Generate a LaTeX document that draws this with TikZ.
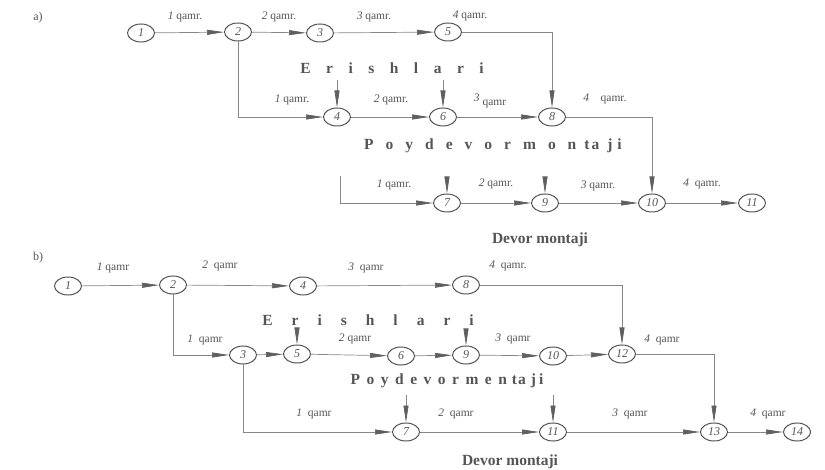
\documentclass[tikz,border=0pt]{standalone}
\usepackage{fontspec}
\setmainfont{Liberation Serif}
\usetikzlibrary{arrows.meta,shapes.geometric}
\definecolor{ink}{RGB}{85,85,85}
\definecolor{wire}{RGB}{135,135,135}
\definecolor{tip}{RGB}{95,95,95}
\newcommand\lsp[1]{\hspace{#1}}
\tikzset{
 ev/.style={ellipse,draw=ink,line width=1pt,minimum width=27pt,minimum height=18pt,inner sep=0pt,font=\fontsize{12}{12}\selectfont\itshape,text=ink},
 lab/.style={font=\fontsize{11.5}{11.5}\selectfont,text=ink,inner sep=0pt},
 ttl/.style={font=\fontsize{15.5}{15.5}\selectfont\bfseries,text=ink,inner sep=0pt},
 con/.style={draw=wire,line width=0.7pt,-{Triangle[length=17pt,width=5pt,color=tip]}},
 tag/.style={font=\fontsize{12}{12}\selectfont,text=ink,inner sep=0pt}
}
\begin{document}
\begin{tikzpicture}[x=1pt,y=-1pt]
\useasboundingbox (0,0) rectangle (825,470);
% ---------------- a) ----------------
\node[tag] (ta) at (38,18) {a)};
\node[ev] (a1) at (141,33) {1};
\node[ev] (a2) at (238,32) {2};
\node[ev] (a3) at (320,33) {3};
\node[ev] (a5) at (448,32) {5};
\node[ev] (a4) at (337,117) {4};
\node[ev] (a6) at (443,117) {6};
\node[ev] (a8) at (552,117) {8};
\node[ev] (a7) at (447,203) {7};
\node[ev] (a9) at (545,203) {9};
\node[ev] (a10) at (652,203) {10};
\node[ev] (a11) at (752,203) {11};
\node[ttl] (ae) at (392,68) {E\lsp{15.5pt}r\lsp{15.5pt}i\lsp{15.5pt}s\lsp{15.5pt}h\lsp{15.5pt}l\lsp{15.5pt}a\lsp{15.5pt}r\lsp{15.5pt}i};
\node[ttl] (ap) at (493,146) {P\lsp{12pt}o\lsp{12pt}y\lsp{12pt}d\lsp{12pt}e\lsp{12pt}v\lsp{12pt}o\lsp{12pt}r\lsp{12pt}m\lsp{12pt}o\lsp{12pt}n\lsp{8pt}t\lsp{2pt}a\lsp{8pt}j\lsp{5pt}i};
\node[ttl] (ad) at (540,240) {Devor montaji};
% labels
\node[lab] (la1) at (185,17) {\textit{1} qamr.};
\node[lab] (la2) at (279,17) {\textit{2} qamr.};
\node[lab] (la3) at (374,17) {\textit{3} qamr.};
\node[lab] (la4) at (470,16) {\textit{4} qamr.};
\node[lab] (la5) at (292,100) {\textit{1} qamr.};
\node[lab] (la6) at (391,100) {\textit{2} qamr.};
\node[lab] (la7) at (490,101) {\textit{3} \raisebox{-4pt}{qamr}};
\node[lab] (la8) at (605,99) {\textit{4}\quad qamr.};
\node[lab] (la9) at (394,185) {\textit{1} qamr.};
\node[lab] (la10) at (496,184) {\textit{2} qamr.};
\node[lab] (la11) at (598,186) {\textit{3} qamr.};
\node[lab] (la12) at (702,184) {\textit{4}\enspace qamr.};
% connectors
\draw[con] (a1) -- (a2);
\draw[con] (a2) -- (a3);
\draw[con] (a3) -- (a5);
\draw[con] (a5) -| (a8);
\draw[con] (a2) |- (a4);
\draw[con] (a4) -- (a6);
\draw[con] (a6) -- (a8);
\draw[con] (a8) -| (a10);
\draw[con] (a7) -- (a9);
\draw[con] (a9) -- (a10);
\draw[con] (a10) -- (a11);
\coordinate (sa4) at (337,80);
\coordinate (sa6) at (443,80);
\coordinate (sa7) at (447,178);
\coordinate (sa9) at (545,178);
\coordinate (sa0) at (340,176);
\draw[con] (sa4) -- (a4);
\draw[con] (sa6) -- (a6);
\draw[con] (sa7) -- (a7);
\draw[con] (sa9) -- (a9);
\draw[con] (sa0) |- (a7);
% ---------------- b) ----------------
\node[tag] (tb) at (38,258) {b)};
\node[ev] (b1) at (68,286) {1};
\node[ev] (b2) at (173,285) {2};
\node[ev] (b4) at (303,286) {4};
\node[ev] (b8) at (466,285) {8};
\node[ev] (b3) at (243,355) {3};
\node[ev] (b5) at (297,354) {5};
\node[ev] (b6) at (401,356) {6};
\node[ev] (b9) at (466,355) {9};
\node[ev] (b10) at (553,356) {10};
\node[ev] (b12) at (622,354) {12};
\node[ev] (b7) at (406,432) {7};
\node[ev] (b11) at (553,432) {11};
\node[ev] (b13) at (714,432) {13};
\node[ev] (b14) at (797,432) {14};
\node[ttl] (be) at (368,320) {E\lsp{19pt}r\lsp{19pt}i\lsp{19pt}s\lsp{19pt}h\lsp{19pt}l\lsp{19pt}a\lsp{19pt}r\lsp{19pt}i};
\node[ttl] (bp) at (447,381) {P\lsp{6.5pt}o\lsp{6.5pt}y\lsp{6.5pt}d\lsp{6.5pt}e\lsp{6.5pt}v\lsp{6.5pt}o\lsp{6.5pt}r\lsp{6.5pt}m\lsp{6.5pt}e\lsp{6.5pt}n\lsp{5pt}t\lsp{1pt}a\lsp{5pt}j\lsp{3pt}i};
\node[ttl] (bd) at (510,462) {Devor montaji};
% labels
\node[lab] (lb1) at (113,268) {\textit{1} qamr};
\node[lab] (lb2) at (220,266) {\textit{2}\enspace qamr};
\node[lab] (lb3) at (366,268) {\textit{3}\enspace qamr};
\node[lab] (lb4) at (508,266) {\textit{4}\enspace qamr.};
\node[lab] (lb5) at (205,340) {\textit{1}\enspace qamr};
\node[lab] (lb6) at (355,339) {\textit{2} qamr};
\node[lab] (lb7) at (513,339) {\textit{3}\enspace qamr};
\node[lab] (lb8) at (662,340) {\textit{4}\enspace qamr};
\node[lab] (lb9) at (314,414) {\textit{1}\enspace qamr};
\node[lab] (lb10) at (456,414) {\textit{2}\enspace qamr};
\node[lab] (lb11) at (630,414) {\textit{3}\enspace qamr};
\node[lab] (lb12) at (768,414) {\textit{4}\enspace qamr};
% connectors
\draw[con] (b1) -- (b2);
\draw[con] (b2) -- (b4);
\draw[con] (b4) -- (b8);
\draw[con] (b8) -| (b12);
\draw[con] (b2) |- (b3);
\draw[con] (b3) -- (b5);
\draw[con] (b5) -- (b6);
\draw[con] (b6) -- (b9);
\draw[con] (b9) -- (b10);
\draw[con] (b10) -- (b12);
\draw[con] (b12) -| (b13);
\draw[con] (b3) |- (b7);
\draw[con] (b7) -- (b11);
\draw[con] (b11) -- (b13);
\draw[con] (b13) -- (b14);
\coordinate (sb5) at (297,330);
\coordinate (sb9) at (466,330);
\coordinate (sb7) at (406,395);
\coordinate (sb11) at (553,395);
\draw[con] (sb5) -- (b5);
\draw[con] (sb9) -- (b9);
\draw[con] (sb7) -- (b7);
\draw[con] (sb11) -- (b11);
\end{tikzpicture}
\end{document}
